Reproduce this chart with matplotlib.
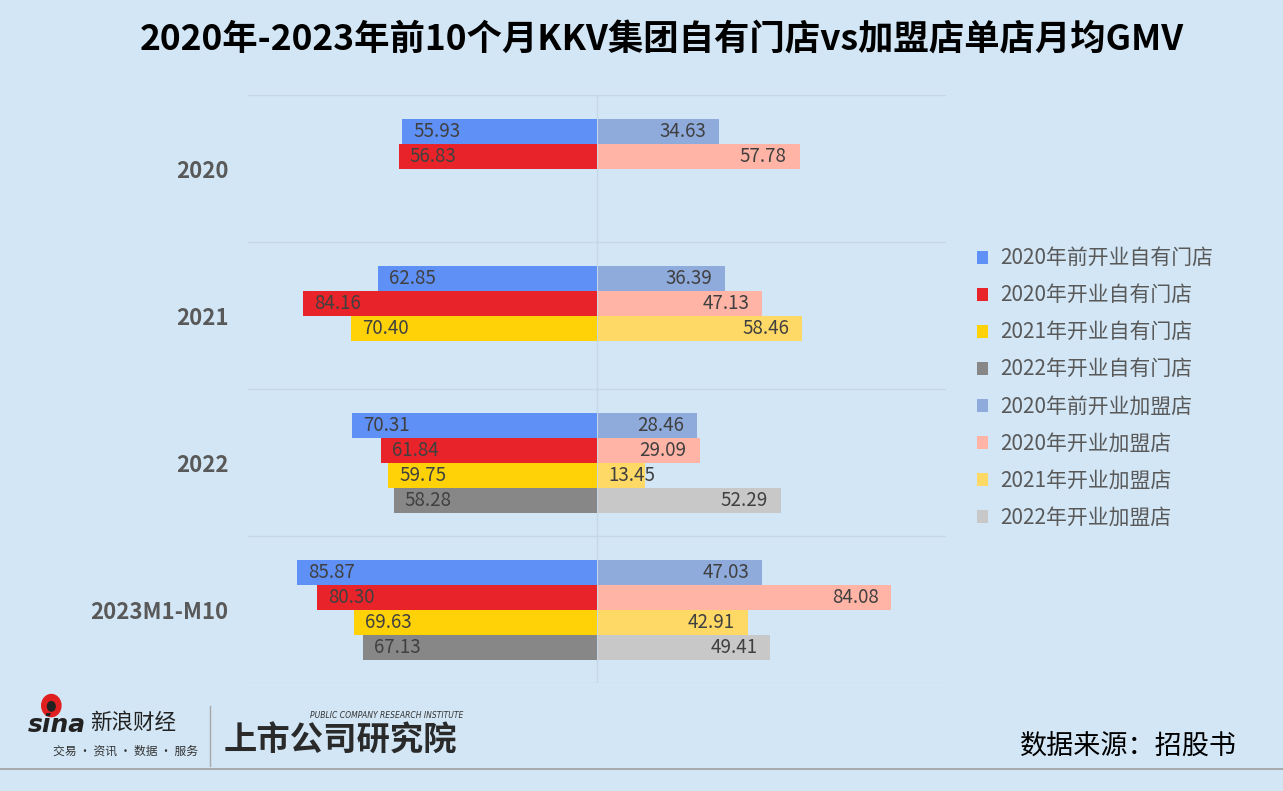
import matplotlib.pyplot as plt
from matplotlib.lines import Line2D
from matplotlib.patches import Ellipse

plt.rcParams['font.family'] = ['Noto Sans CJK SC', 'DejaVu Sans']

categories = ['2020', '2021', '2022', '2023M1-M10']

own_labels = ['2020年前开业自有门店', '2020年开业自有门店', '2021年开业自有门店', '2022年开业自有门店']
franchise_labels = ['2020年前开业加盟店', '2020年开业加盟店', '2021年开业加盟店', '2022年开业加盟店']

# None = no bar for that year
own_values = [
    [55.93, 62.85, 70.31, 85.87],
    [56.83, 84.16, 61.84, 80.30],
    [None, 70.40, 59.75, 69.63],
    [None, None, 58.28, 67.13],
]
franchise_values = [
    [34.63, 36.39, 28.46, 47.03],
    [57.78, 47.13, 29.09, 84.08],
    [None, 58.46, 13.45, 42.91],
    [None, None, 52.29, 49.41],
]

own_colors = ['#5F90F5', '#E8242A', '#FFD208', '#878787']
franchise_colors = ['#8EABDC', '#FFB4A6', '#FFD966', '#C8C8C8']

bg = '#D2E6F5'
label_color = '#404040'

fig = plt.figure(figsize=(12.83, 7.91), dpi=100, facecolor=bg)
ax = fig.add_axes([0.1933, 0.1365, 0.544, 0.7434])
ax.set_facecolor(bg)

bar_h = 25 / 147
offset0 = (24 + 12.5) / 147

handles = []
for series, (vals, color, lab) in enumerate(zip(own_values, own_colors, own_labels)):
    ys = [i + offset0 + series * bar_h for i in range(len(categories)) if vals[i] is not None]
    vs = [v for v in vals if v is not None]
    bars = ax.barh(ys, [-v for v in vs], height=bar_h, color=color, label=lab)
    handles.append(bars)
    for y, v in zip(ys, vs):
        ax.text(-v + 3.2, y, f'{v:.2f}', ha='left', va='center', fontsize=13.5, color=label_color)

for series, (vals, color, lab) in enumerate(zip(franchise_values, franchise_colors, franchise_labels)):
    ys = [i + offset0 + series * bar_h for i in range(len(categories)) if vals[i] is not None]
    vs = [v for v in vals if v is not None]
    bars = ax.barh(ys, vs, height=bar_h, color=color, label=lab, left=0.3)
    handles.append(bars)
    for y, v in zip(ys, vs):
        if v < 20:
            ax.text(3.4, y, f'{v:.2f}', ha='left', va='center', fontsize=13.5, color=label_color)
        else:
            ax.text(v - 3.4, y, f'{v:.2f}', ha='right', va='center', fontsize=13.5, color=label_color)

ax.set_xlim(-100, 100)
ax.set_ylim(len(categories), 0)
for i in range(len(categories) + 1):
    ax.axhline(i, color='#C5D7E8', lw=1, zorder=0)
ax.axvline(0, color='#C5D7E8', lw=1, zorder=0)

ax.set_yticks([i + 0.5 for i in range(len(categories))])
ax.set_yticklabels(categories, fontsize=16, fontweight='bold', color='#595959')
ax.set_xticks([])
ax.tick_params(axis='y', length=0, pad=14)
for s in ax.spines.values():
    s.set_visible(False)

leg = fig.legend(handles=handles, loc='upper left', bbox_to_anchor=(0.7465, 0.71),
                 frameon=False, fontsize=15, labelcolor='#595959',
                 handlelength=0.55, handleheight=0.55, handletextpad=0.6, labelspacing=0.72)

fig.text(0.516, 0.95, '2020年-2023年前10个月KKV集团自有门店vs加盟店单店月均GMV',
         ha='center', va='center', fontsize=25.5, fontweight='bold', color='black')

# footer
fig.text(0.022, 0.084, 'sina', fontsize=18, fontweight='bold', fontstyle='italic', color='#222222',
         ha='left', va='center', family=['DejaVu Sans'])
fig.add_artist(Ellipse((0.04, 0.108), 0.015, 0.028, transform=fig.transFigure, color='#E02020'))
fig.add_artist(Ellipse((0.04, 0.107), 0.006, 0.012, transform=fig.transFigure, color='#222222'))
fig.text(0.07, 0.086, '新浪财经', fontsize=15.5, color='#222222', ha='left', va='center')
fig.text(0.041, 0.05, '交易 · 资讯 · 数据 · 服务', fontsize=8.5, color='#333333', ha='left', va='center')
fig.add_artist(Line2D([0.164, 0.164], [0.032, 0.108], color='#A8A8A8', lw=1))
fig.text(0.174, 0.063, '上市公司研究院', fontsize=24, fontweight='heavy', fontstyle='italic',
         color='#2A2A2A', ha='left', va='center')
fig.text(0.242, 0.096, 'PUBLIC COMPANY RESEARCH INSTITUTE', fontsize=5.5, fontstyle='italic',
         color='#333333', ha='left', va='center', family=['DejaVu Sans'])
fig.text(0.964, 0.057, '数据来源：招股书', fontsize=19.5, color='black', ha='right', va='center')
fig.add_artist(Line2D([0, 1], [0.028, 0.028], color='#A0A0A0', lw=1.2))

fig.savefig('out.png', dpi=100, facecolor=bg)
